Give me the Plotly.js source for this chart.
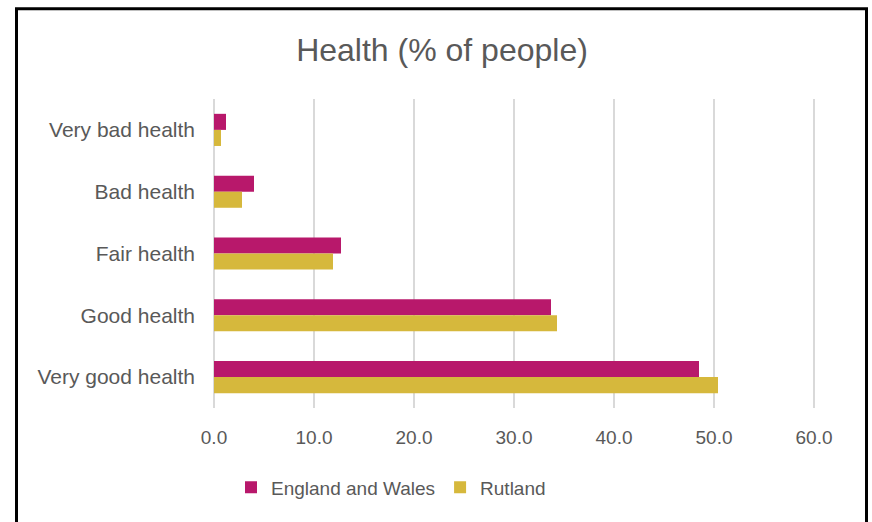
<!DOCTYPE html>
<html>
<head>
<meta charset="utf-8">
<script src="https://cdn.plot.ly/plotly-3.0.1.min.js"></script>
<style>
  html, body { margin: 0; padding: 0; background: #ffffff; }
  #chart { width: 872px; height: 522px; }
</style>
</head>
<body>
<div id="chart"></div>
<script>
// Self-assessed general health, percentage of usual residents
const categories = ["Very bad health", "Bad health", "Fair health", "Good health", "Very good health"];
const englandWales = [1.2, 4.0, 12.7, 33.7, 48.5];
const rutland = [0.7, 2.8, 11.9, 34.3, 50.4];
const seriesNames = ["England and Wales", "Rutland"];
const xTicks = [0, 10, 20, 30, 40, 50, 60];

const W = 872, H = 522;
// axis runs slightly past 60 so the last gridline is drawn
const xMax = 60.3;
const margin = { l: 214, r: 55, t: 99, b: 113.5, pad: 0 };
const plotW = W - margin.l - margin.r;
const plotH = H - margin.t - margin.b;
// pixel -> paper coordinates
const px = x => (x - margin.l) / plotW;
const py = y => (H - margin.b - y) / plotH;

const font = "Liberation Sans, Arial, sans-serif";
const grey = "#595959";

const traces = [
  {
    type: "bar", orientation: "h", name: seriesNames[0],
    y: categories, x: englandWales,
    marker: { color: "#B8186B", line: { width: 0 } },
    hoverinfo: "skip"
  },
  {
    type: "bar", orientation: "h", name: seriesNames[1],
    y: categories, x: rutland,
    marker: { color: "#D6B83C", line: { width: 0 } },
    hoverinfo: "skip"
  }
];

const layout = {
  width: W, height: H,
  margin: margin,
  paper_bgcolor: "#ffffff",
  plot_bgcolor: "#ffffff",
  font: { family: font, color: grey },
  title: {
    text: "Health (% of people)",
    font: { family: font, size: 32, color: grey },
    x: 442 / W, xref: "container", xanchor: "center",
    y: 1 - 50 / H, yref: "container", yanchor: "middle",
    pad: { t: 0, b: 0, l: 0, r: 0 }
  },
  barmode: "group",
  bargap: 0.48,
  bargroupgap: 0,
  xaxis: {
    range: [0, xMax],
    tickvals: xTicks,
    tickformat: ".1f",
    showgrid: true, gridcolor: "#D9D9D9", gridwidth: 2,
    zeroline: true, zerolinecolor: "#D9D9D9", zerolinewidth: 2,
    showline: false, ticks: "",
    tickfont: { family: font, size: 19, color: grey },
    ticklabelstandoff: 16,
    fixedrange: true
  },
  yaxis: {
    type: "category",
    categoryorder: "array", categoryarray: categories,
    autorange: "reversed",
    showgrid: false, zeroline: false, showline: false, ticks: "",
    tickfont: { family: font, size: 21, color: grey },
    ticklabelstandoff: 18,
    fixedrange: true
  },
  showlegend: true,
  legend: {
    orientation: "h",
    x: px(391), xanchor: "center",
    y: py(488), yanchor: "middle",
    font: { family: font, size: 19, color: grey },
    bgcolor: "rgba(0,0,0,0)",
    traceorder: "normal"
  },
  shapes: [
    {
      type: "rect", xref: "paper", yref: "paper",
      x0: px(16.5), x1: px(866.5), y0: py(540), y1: py(8.5),
      line: { color: "#000000", width: 3 },
      fillcolor: "rgba(0,0,0,0)",
      layer: "above"
    }
  ]
};

Plotly.newPlot("chart", traces, layout, { staticPlot: true, displayModeBar: false });
</script>
</body>
</html>
